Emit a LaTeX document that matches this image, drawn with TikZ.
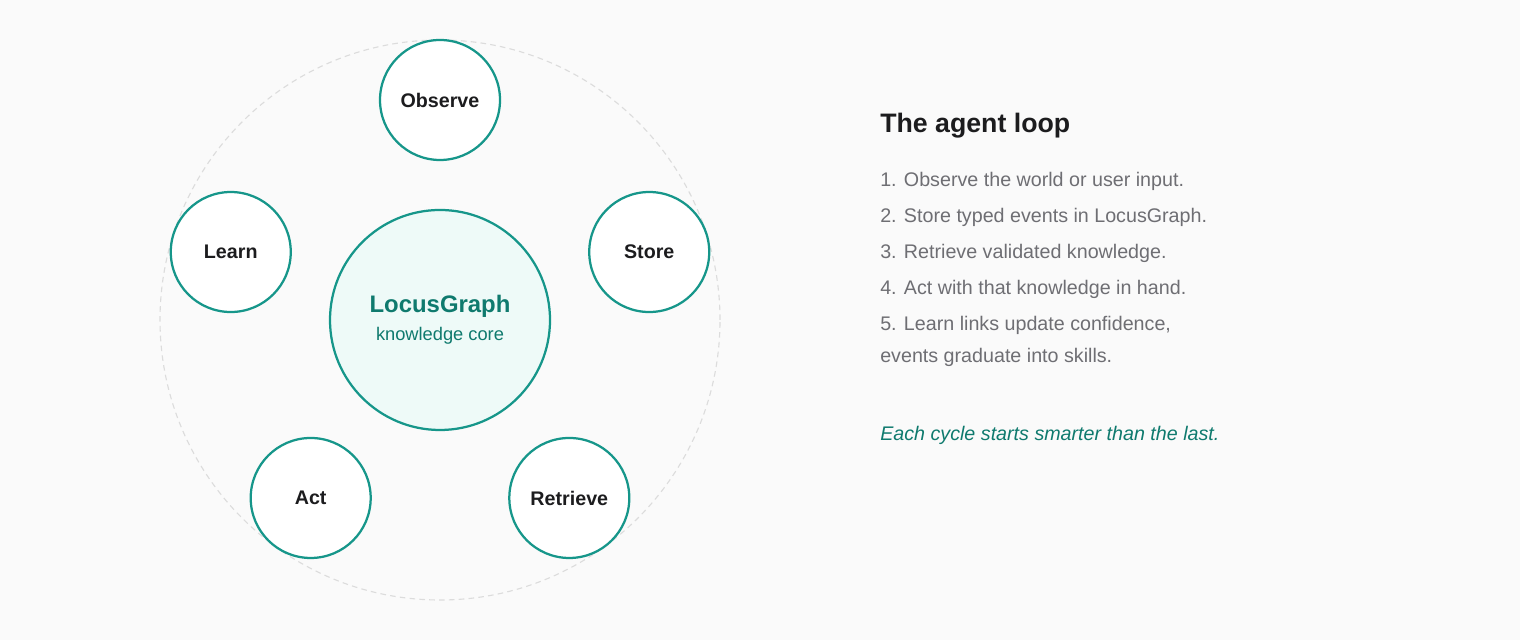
\documentclass[tikz,border=0pt]{standalone}
\usepackage{fontspec}
\setmainfont{Liberation Sans}
\usetikzlibrary{positioning,calc}
\definecolor{teal}{HTML}{16968A}
\definecolor{tealtext}{HTML}{0F7A6E}
\definecolor{tealfill}{HTML}{EEFAF8}
\definecolor{bggray}{HTML}{FAFAFA}
\definecolor{ringgray}{HTML}{DCDCDC}
\definecolor{steptext}{HTML}{6E6E73}
\definecolor{headtext}{HTML}{1C1C1E}

\begin{document}
\begin{tikzpicture}[
  stage/.style={circle, draw=teal, line width=1.6pt, fill=white, minimum size=3cm,
    inner sep=0pt, font=\fontsize{14}{16}\selectfont\bfseries, text=headtext},
  core/.style={circle, draw=teal, line width=1.6pt, fill=tealfill, minimum size=5.5cm,
    inner sep=0pt, align=center, text=tealtext},
  item/.style={anchor=base west, inner sep=0pt, text=steptext,
    font=\fontsize{14}{16}\selectfont},
  ]
  % background and frame
  \fill[bggray] (0,0) rectangle (38,16);
  \useasboundingbox (0,0) rectangle (38,16);

  % ring and core
  \coordinate (c) at (11,8);
  \draw[ringgray, line width=0.8pt, dash pattern=on 4pt off 3pt] (c) circle (7);
  \node[core] (locus) at (c) {{\fontsize{17}{20}\selectfont\bfseries LocusGraph}\\[6pt]
    {\fontsize{13}{15}\selectfont knowledge core}};

  % stages of the loop
  \node[stage] (observe) at ($(c)+(90:5.5)$) {Observe};
  \node[stage] (store) at ($(c)+(18:5.5)$) {Store};
  \node[stage] (retrieve) at ($(c)+(-54:5.5)$) {Retrieve};
  \node[stage] (act) at ($(c)+(-126:5.5)$) {Act};
  \node[stage] (learn) at ($(c)+(162:5.5)$) {Learn};

  % text on the right
  \node[anchor=base west, inner sep=0pt, text=headtext,
    font=\fontsize{19}{22}\selectfont\bfseries] (title) at (22,12.68) {The agent loop};
  \node[item] (s1) at (22,11.34) {1. Observe the world or user input.};
  \node[item] (s2) at (22,10.44) {2. Store typed events in LocusGraph.};
  \node[item] (s3) at (22,9.54) {3. Retrieve validated knowledge.};
  \node[item] (s4) at (22,8.64) {4. Act with that knowledge in hand.};
  \node[item] (s5) at (22,7.74) {5. Learn links update confidence,};
  \node[item] (s6) at (22,6.94) {events graduate into skills.};
  \node[item, text=tealtext, font=\fontsize{14}{16}\selectfont\itshape] (tag) at (22,4.99)
    {Each cycle starts smarter than the last.};
\end{tikzpicture}
\end{document}
